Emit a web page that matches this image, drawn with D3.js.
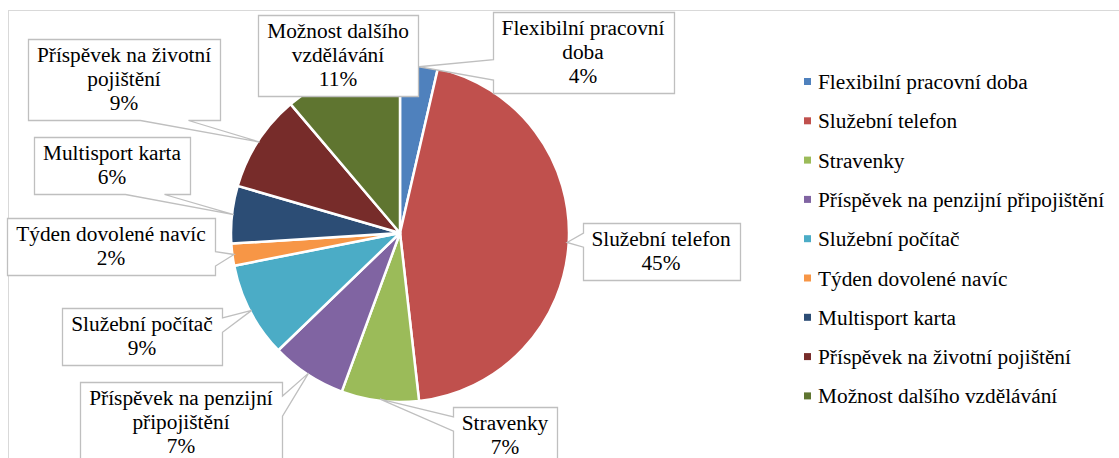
<!DOCTYPE html>
<html>
<head>
<meta charset="utf-8">
<script src="https://cdn.jsdelivr.net/npm/d3@7"></script>
<style>
  body { margin: 0; background: #fff; }
</style>
</head>
<body>
<div id="chart"></div>
<script>
// categories and shares (percent)
var categories = [
  "Flexibilní pracovní doba",
  "Služební telefon",
  "Stravenky",
  "Příspěvek na penzijní připojištění",
  "Služební počítač",
  "Týden dovolené navíc",
  "Multisport karta",
  "Příspěvek na životní pojištění",
  "Možnost dalšího vzdělávání"
];
var values = [3.6, 44.6, 7.4, 7.2, 9.1, 2.1, 5.5, 9.3, 11.2];

// wrapped text of the callout labels
var labelLines = [
  ["Flexibilní pracovní", "doba"],
  ["Služební telefon"],
  ["Stravenky"],
  ["Příspěvek na penzijní", "připojištění"],
  ["Služební počítač"],
  ["Týden dovolené navíc"],
  ["Multisport karta"],
  ["Příspěvek na životní", "pojištění"],
  ["Možnost dalšího", "vzdělávání"]
];

var colours = ["#4F81BD", "#C0504D", "#9BBB59", "#8064A2", "#4BACC6",
               "#F79646", "#2C4D75", "#772C2A", "#5F7530"];

// where each callout box sits (centre of the box)
var labelPlace = [
  [583, 52], [661, 251], [505, 435], [181, 422], [142, 336],
  [111, 246], [112, 165], [124, 79], [338, 55]
];

var width = 1119, height = 458;
var cx = 400, cy = 233, radius = 169;
var fontSize = 21.33, lineH = 24;
var fontFamily = "'Liberation Serif', 'Times New Roman', serif";

var svg = d3.select("#chart").append("svg")
  .attr("width", width)
  .attr("height", height);

// chart area border
svg.append("rect")
  .attr("x", 8.5).attr("y", 10.5)
  .attr("width", width + 20).attr("height", height + 20)
  .attr("fill", "none")
  .attr("stroke", "#D9D9D9");

var data = categories.map(function (c, i) {
  return { name: c, value: values[i], colour: colours[i], lines: labelLines[i], place: labelPlace[i] };
});

var pie = d3.pie().sort(null).value(function (d) { return d.value; });
var arc = d3.arc().innerRadius(0).outerRadius(radius);
var tipArc = d3.arc().innerRadius(radius * 0.99).outerRadius(radius * 0.99);

var g = svg.append("g").attr("transform", "translate(" + cx + "," + cy + ")");
var arcs = pie(data);

g.selectAll("path.slice")
  .data(arcs)
  .enter()
  .append("path")
  .attr("class", "slice")
  .attr("d", arc)
  .attr("fill", function (d) { return d.data.colour; })
  .attr("stroke", "#fff")
  .attr("stroke-width", 2.5)
  .attr("stroke-linejoin", "round");

// callout shape like office "wedgeRectCallout": the wedge base sits
// at 2/12..5/12 or 7/12..10/12 of the side, depending on the tip direction
function calloutPath(x0, y0, w, h, tx, ty) {
  var x1 = x0 + w, y1 = y0 + h;
  var dx = tx - (x0 + w / 2), dy = ty - (y0 + h / 2);
  var p = d3.path();
  if (tx >= x0 && tx <= x1 && ty >= y0 && ty <= y1) {
    p.rect(x0, y0, w, h);
    return p.toString();
  }
  var xa = x0 + w * (dx > 0 ? 7 : 2) / 12, xb = x0 + w * (dx > 0 ? 10 : 5) / 12;
  var ya = y0 + h * (dy > 0 ? 7 : 2) / 12, yb = y0 + h * (dy > 0 ? 10 : 5) / 12;
  var vertical = Math.abs(dy) - Math.abs(dx * h / w) > 0;
  p.moveTo(x0, y0);
  if (vertical && dy < 0) { p.lineTo(xa, y0); p.lineTo(tx, ty); p.lineTo(xb, y0); }
  p.lineTo(x1, y0);
  if (!vertical && dx > 0) { p.lineTo(x1, ya); p.lineTo(tx, ty); p.lineTo(x1, yb); }
  p.lineTo(x1, y1);
  if (vertical && dy > 0) { p.lineTo(xb, y1); p.lineTo(tx, ty); p.lineTo(xa, y1); }
  p.lineTo(x0, y1);
  if (!vertical && dx < 0) { p.lineTo(x0, yb); p.lineTo(tx, ty); p.lineTo(x0, ya); }
  p.closePath();
  return p.toString();
}

var labels = svg.append("g").attr("class", "labels");

arcs.forEach(function (d) {
  var lines = d.data.lines.concat([Math.round(d.data.value) + "%"]);
  var lab = labels.append("g");
  var txt = lab.append("text")
    .attr("text-anchor", "middle")
    .attr("font-family", fontFamily)
    .attr("font-size", fontSize)
    .attr("fill", "#000");
  var maxW = 0;
  lines.forEach(function (l) {
    var t = txt.append("tspan")
      .attr("x", d.data.place[0])
      .text(l);
    maxW = Math.max(maxW, t.node().getComputedTextLength());
  });
  var bw = Math.round(maxW + 18), bh = lines.length * lineH + 9;
  var x0 = Math.round(d.data.place[0] - bw / 2) + 0.5;
  var y0 = Math.round(d.data.place[1] - bh / 2) + 0.5;
  txt.selectAll("tspan").attr("y", function (l, i) { return y0 + 22.5 + i * lineH; });

  var tip = tipArc.centroid(d);
  lab.insert("path", "text")
    .attr("d", calloutPath(x0, y0, bw, bh, tip[0] + cx, tip[1] + cy))
    .attr("fill", "#fff")
    .attr("stroke", "#BFBFBF")
    .attr("stroke-width", 1.3)
    .attr("stroke-linejoin", "miter");
});

// legend
var legend = svg.append("g").attr("transform", "translate(804,82)");
var rows = legend.selectAll("g")
  .data(data)
  .enter()
  .append("g")
  .attr("transform", function (d, i) { return "translate(0," + (i * 39.3) + ")"; });

rows.append("rect")
  .attr("x", 0).attr("y", -4)
  .attr("width", 7).attr("height", 7)
  .attr("fill", function (d) { return d.colour; });

rows.append("text")
  .attr("x", 14)
  .attr("y", 0)
  .attr("dy", "0.33em")
  .attr("font-family", fontFamily)
  .attr("font-size", fontSize)
  .attr("fill", "#000")
  .text(function (d) { return d.name; });
</script>
</body>
</html>
